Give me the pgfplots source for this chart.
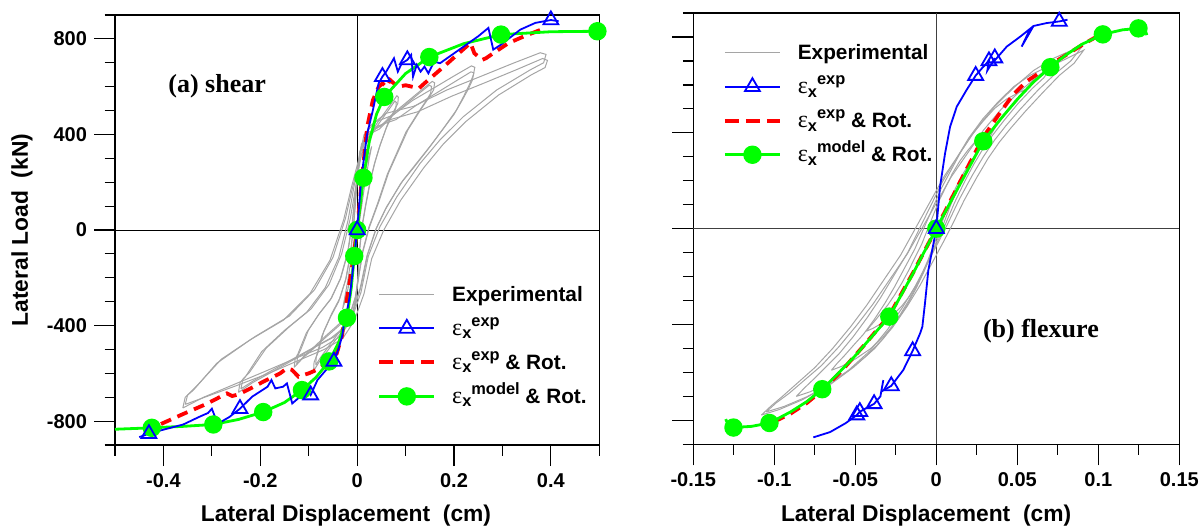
\documentclass[border=0pt]{standalone}
\usepackage{fontspec}
\setmainfont{Liberation Sans}
\newfontfamily\serif{Liberation Serif}
\usepackage{pgfplots}
\pgfplotsset{compat=1.18}
\definecolor{expgray}{RGB}{165,165,165}
\definecolor{pblue}{RGB}{0,0,255}
\definecolor{pred}{RGB}{255,0,0}
\definecolor{pgreen}{RGB}{0,255,0}
\newcommand{\epsx}[1]{{\serif\mdseries\fontsize{12}{14}\selectfont ε}\raisebox{-1.8pt}{\fontsize{8.2}{9}\selectfont x}\raisebox{4.5pt}{\fontsize{8.2}{9}\selectfont #1}}
\pgfplotsset{
  panel/.style={
    scale only axis, clip=false,
    axis line style={line width=0.6pt},
    tick align=outside, xtick pos=left, ytick pos=left,
    major tick length=10.5pt, minor tick length=5.25pt,
    every tick/.style={black, line width=0.6pt},
    ymin=-900, ymax=900,
    ytick={-800,-400,0,400,800},
    minor ytick={-900,-700,-600,-500,-300,-200,-100,100,200,300,500,600,700,900},
    tick label style={font=\fontsize{10}{11}\selectfont\bfseries},
    label style={font=\fontsize{11.4}{13}\selectfont\bfseries},
    legend image code/.code={\draw[mark repeat=2,mark phase=2,##1] plot coordinates {(0pt,0pt) (13.75pt,0pt) (27.5pt,0pt)};},
    legend style={draw=none, fill=none, inner sep=0pt, font=\fontsize{10.4}{12}\selectfont\bfseries, row sep=0pt, column sep=7pt, nodes={inner sep=1pt, text height=11pt, text depth=4pt}},
    legend cell align=left,
  },
  gr/.style={expgray, line width=0.5pt, forget plot},
  bl/.style={pblue, line width=0.9pt, mark=triangle, mark size=4.3pt, mark options={solid}},
  rd/.style={pred, line width=1.9pt, dash pattern=on 5.5pt off 3.5pt},
  gn/.style={pgreen, line width=1.4pt, mark=*, mark size=3.9pt, mark options={solid}},
}
\begin{document}
\begin{tikzpicture}[x=1pt,y=1pt]
\useasboundingbox (0,0) rectangle (600.5,-263.5);
% ---------------- left panel: shear ----------------
\begin{axis}[panel, at={(57.5pt,-222.5pt)}, anchor=south west, width=242.15pt, height=215pt,
  xmin=-0.5, xmax=0.5,
  xtick={-0.4,-0.2,0,0.2,0.4}, xticklabels={-0.4,-0.2,0,0.2,0.4},
  minor xtick={-0.5,-0.3,-0.1,0.1,0.3,0.5},
  yticklabels={-800,-400,0,400,800},
  xlabel={Lateral Displacement\ \ (cm)}, ylabel={Lateral Load\ \ (kN)},
  xlabel style={at={(axis description cs:0.477,-0.177)}, anchor=base},
  ylabel style={at={(axis description cs:-0.192,0.5)}, anchor=center},
  legend style={at={(axis cs:0.041,-196.7)}, anchor=north west},
]
\addlegendimage{expgray, line width=0.6pt}\addlegendentry{Experimental}
\addlegendimage{bl}\addlegendentry{\epsx{exp}}
\addlegendimage{rd, dash pattern=on 7pt off 3.5pt}\addlegendentry{\epsx{exp} \& Rot.}
\addlegendimage{gn}\addlegendentry{\epsx{model} \& Rot.}
\addplot[black, line width=0.5pt, forget plot] coordinates {(0,-900) (0,900)};
\addplot[black, line width=0.5pt, forget plot] coordinates {(-0.5,0) (0.5,0)};
% experimental loops
\addplot[gr] coordinates {(0,0) (0.01,170) (0.02,280) (0.03,350) (0.025,300) (0.015,180) (0.005,40) (-0.005,-90) (-0.015,-210) (-0.025,-300) (-0.03,-330) (-0.02,-220) (-0.01,-90) (0.0,40) (0.01,170) (0.02,280) (0.03,350)};
\addplot[gr] coordinates {(-0.090,-590) (-0.089,-554) (-0.0845,-531) (-0.0725,-442) (-0.055,-364) (-0.038,-299) (-0.024,-210) (-0.014,-100) (-0.007,33) (-0.0028,140) (0.0017,252) (0.005,326) (0.0129,369) (0.0255,392) (0.040,444) (0.055,486) (0.070,528) (0.082,562) (0.085,556) (0.084,530) (0.078,507) (0.063,444) (0.048,359) (0.037,285) (0.028,211) (0.018,105) (0.010,11) (0.005,-87) (0.0017,-206) (-0.0028,-295) (-0.009,-354) (-0.018,-390) (-0.0315,-425) (-0.047,-467) (-0.064,-513) (-0.079,-554) (-0.090,-590)};
\addplot[gr] coordinates {(-0.0855,-566) (-0.0846,-532) (-0.0803,-510) (-0.0689,-424) (-0.0523,-349) (-0.0361,-287) (-0.0228,-202) (-0.0133,-96) (-0.0067,32) (-0.0027,134) (0.0016,242) (0.0048,313) (0.0123,354) (0.0242,376) (0.038,426) (0.0523,467) (0.0665,507) (0.0779,540) (0.0808,534) (0.0798,509) (0.0741,487) (0.0599,426) (0.0456,345) (0.0352,274) (0.0266,203) (0.0171,101) (0.0095,11) (0.0048,-84) (0.0016,-198) (-0.0027,-283) (-0.0086,-340) (-0.0171,-374) (-0.0299,-408) (-0.0447,-448) (-0.0608,-492) (-0.0751,-532) (-0.0855,-566)};
\addplot[gr] coordinates {(-0.130,-575) (-0.128,-540) (-0.122,-517) (-0.105,-431) (-0.080,-355) (-0.055,-291) (-0.035,-205) (-0.020,-97) (-0.010,35) (-0.004,155) (0.003,279) (0.009,360) (0.024,409) (0.048,434) (0.076,491) (0.104,538) (0.132,585) (0.155,622) (0.160,616) (0.158,587) (0.150,560) (0.130,500) (0.105,420) (0.085,330) (0.065,240) (0.045,120) (0.025,10) (0.012,-90) (0.003,-200) (-0.004,-287) (-0.013,-345) (-0.026,-380) (-0.045,-414) (-0.068,-455) (-0.092,-500) (-0.114,-540) (-0.130,-575)};
\addplot[gr] coordinates {(-0.1248,-561) (-0.1229,-527) (-0.1171,-504) (-0.1008,-420) (-0.0768,-346) (-0.0528,-284) (-0.0336,-200) (-0.0192,-95) (-0.0096,34) (-0.0038,151) (0.0029,272) (0.0086,351) (0.023,399) (0.0461,423) (0.073,479) (0.0998,525) (0.1267,570) (0.1488,606) (0.1536,601) (0.1517,572) (0.144,546) (0.1248,488) (0.1008,410) (0.0816,322) (0.0624,234) (0.0432,117) (0.024,10) (0.0115,-88) (0.0029,-195) (-0.0038,-280) (-0.0125,-336) (-0.025,-371) (-0.0432,-404) (-0.0653,-444) (-0.0883,-488) (-0.1094,-527) (-0.1248,-561)};
\addplot[gr] coordinates {(-0.245,-680) (-0.242,-639) (-0.230,-612) (-0.197,-509) (-0.150,-420) (-0.104,-344) (-0.066,-242) (-0.038,-115) (-0.019,39) (-0.0075,171) (0.005,308) (0.014,398) (0.037,452) (0.073,480) (0.115,543) (0.158,594) (0.201,646) (0.236,687) (0.243,681) (0.240,650) (0.233,614) (0.220,560) (0.205,502) (0.178,425) (0.150,349) (0.122,278) (0.095,209) (0.061,98) (0.040,10) (0.022,-100) (0.008,-237) (-0.0075,-340) (-0.0245,-408) (-0.049,-449) (-0.086,-489) (-0.127,-538) (-0.174,-592) (-0.216,-639) (-0.245,-680)};
\addplot[gr] coordinates {(-0.240,-665) (-0.236,-625) (-0.222,-595) (-0.188,-495) (-0.140,-405) (-0.095,-330) (-0.058,-228) (-0.032,-100) (-0.014,50) (-0.003,180) (0.008,310) (0.018,390) (0.042,435) (0.080,462) (0.122,522) (0.165,575) (0.205,625) (0.235,662) (0.241,658) (0.238,628) (0.230,592) (0.216,540) (0.200,484) (0.172,408) (0.144,332) (0.117,262) (0.090,195) (0.058,85) (0.038,0) (0.020,-110) (0.006,-245) (-0.010,-345) (-0.028,-410) (-0.054,-452) (-0.092,-494) (-0.133,-540) (-0.178,-590) (-0.215,-632) (-0.240,-665)};
\addplot[gr] coordinates {(-0.360,-745) (-0.355,-700) (-0.338,-670) (-0.290,-558) (-0.221,-460) (-0.152,-377) (-0.097,-265) (-0.056,-126) (-0.028,42) (-0.011,185) (0.008,333) (0.023,430) (0.059,488) (0.117,518) (0.185,586) (0.254,642) (0.322,698) (0.378,742) (0.390,735) (0.385,700) (0.357,670) (0.288,586) (0.219,474) (0.171,377) (0.130,279) (0.082,139) (0.047,14) (0.023,-110) (0.008,-260) (-0.011,-372) (-0.036,-447) (-0.072,-492) (-0.126,-536) (-0.187,-589) (-0.256,-648) (-0.317,-700) (-0.360,-745)};
\addplot[gr] coordinates {(-0.355,-730) (-0.350,-690) (-0.330,-650) (-0.280,-540) (-0.210,-445) (-0.140,-360) (-0.088,-250) (-0.050,-115) (-0.024,50) (-0.008,190) (0.010,320) (0.028,410) (0.065,460) (0.125,495) (0.195,560) (0.262,615) (0.330,672) (0.383,718) (0.393,710) (0.388,680) (0.360,650) (0.292,565) (0.225,455) (0.178,360) (0.138,262) (0.090,125) (0.055,0) (0.030,-120) (0.014,-268) (-0.006,-380) (-0.030,-455) (-0.068,-500) (-0.120,-545) (-0.180,-598) (-0.250,-652) (-0.312,-698) (-0.355,-730)};
% exp & Rot.
\addplot[rd, forget plot] coordinates {(-0.405,-812) (-0.359,-770) (-0.311,-728) (-0.269,-684) (-0.258,-695) (-0.245,-688) (-0.221,-664) (-0.194,-635) (-0.159,-600) (-0.145,-579) (-0.135,-585) (-0.121,-614) (-0.100,-600) (-0.084,-586) (-0.063,-558) (-0.042,-516) (-0.031,-440) (-0.022,-300) (-0.011,-162) (0,0) (0.0087,190) (0.0206,430) (0.0324,543) (0.0443,599) (0.0522,614) (0.060,599) (0.068,628) (0.084,599) (0.100,606) (0.115,599) (0.127,592) (0.139,614) (0.155,642) (0.179,684) (0.210,740) (0.234,783) (0.242,740) (0.258,712) (0.266,719) (0.281,740) (0.313,783) (0.345,811) (0.380,839)};
% model & Rot.
\addplot[gn, forget plot, mark indices={2,4,6,8,10,12,14,15,17,20,22,24,26}] coordinates {(-0.500,-834) (-0.424,-828) (-0.360,-822) (-0.297,-814) (-0.245,-793) (-0.194,-762) (-0.150,-722) (-0.114,-670) (-0.085,-617) (-0.058,-550) (-0.038,-470) (-0.021,-367) (-0.012,-240) (-0.006,-109) (0,0) (0.006,100) (0.013,219) (0.025,370) (0.040,485) (0.056,557) (0.100,655) (0.149,724) (0.220,780) (0.297,818) (0.400,830) (0.496,832)};
% exp
\addplot[bl, forget plot, mark indices={2,10,20,23,30,35,40,55}] coordinates {(-0.450,-867) (-0.430,-853) (-0.406,-839) (-0.359,-814) (-0.327,-783) (-0.308,-766) (-0.300,-748) (-0.288,-811) (-0.264,-783) (-0.242,-748) (-0.217,-698) (-0.185,-656) (-0.177,-628) (-0.169,-663) (-0.153,-656) (-0.145,-642) (-0.134,-726) (-0.114,-691) (-0.106,-663) (-0.096,-691) (-0.082,-628) (-0.058,-571) (-0.048,-550) (-0.039,-501) (-0.031,-444) (-0.027,-388) (-0.023,-360) (-0.015,-275) (-0.007,-134) (0,0) (0.0087,219) (0.0206,402) (0.0324,501) (0.0443,614) (0.0522,642) (0.060,663) (0.076,719) (0.084,663) (0.092,698) (0.1036,712) (0.1115,733) (0.1154,642) (0.123,691) (0.131,663) (0.139,684) (0.147,656) (0.159,705) (0.171,698) (0.250,811) (0.271,846) (0.281,755) (0.297,776) (0.337,839) (0.368,867) (0.400,879) (0.416,874)};
\node[font=\serif\bfseries\fontsize{13}{15}\selectfont] at (axis cs:-0.289,603) {(a) shear};
\end{axis}
% ---------------- right panel: flexure ----------------
\begin{axis}[panel, at={(346.65pt,-222.15pt)}, anchor=south west, width=243pt, height=215.65pt,
  xmin=-0.15, xmax=0.15,
  xtick={-0.15,-0.1,-0.05,0,0.05,0.1,0.15}, xticklabels={-0.15,-0.1,-0.05,0,0.05,0.1,0.15},
  minor xtick={-0.125,-0.075,-0.025,0.025,0.075,0.125},
  yticklabels={},
  xlabel={Lateral Displacement\ \ (cm)},
  xlabel style={at={(axis description cs:0.479,-0.178)}, anchor=base},
  legend style={at={(axis cs:-0.1319,806.9)}, anchor=north west},
]
\addlegendimage{expgray, line width=0.6pt}\addlegendentry{Experimental}
\addlegendimage{bl}\addlegendentry{\epsx{exp}}
\addlegendimage{rd, dash pattern=on 7pt off 3.5pt}\addlegendentry{\epsx{exp} \& Rot.}
\addlegendimage{gn}\addlegendentry{\epsx{model} \& Rot.}
\addplot[black!75, line width=0.5pt, forget plot] coordinates {(0,-900) (0,900)};
\addplot[black!75, line width=0.5pt, forget plot] coordinates {(-0.15,0) (0.15,0)};
\addplot[gr] coordinates {(-0.0432,-428) (-0.0408,-407) (-0.038,-385) (-0.034,-352) (-0.030,-319) (-0.0256,-275) (-0.0212,-226) (-0.0172,-176) (-0.0132,-121) (-0.0088,-61) (-0.0052,0) (-0.0016,61) (0.002,121) (0.006,176) (0.010,231) (0.0144,281) (0.0192,325) (0.024,363) (0.0288,391) (0.0328,407) (0.036,418) (0.0332,385) (0.0296,358) (0.0252,319) (0.0208,275) (0.0172,237) (0.0144,204) (0.0116,165) (0.0088,121) (0.0056,66) (0.0028,11) (0.0004,-33) (-0.0024,-83) (-0.0052,-132) (-0.0084,-182) (-0.012,-231) (-0.0164,-281) (-0.0216,-325) (-0.0272,-363) (-0.0332,-393) (-0.0388,-415) (-0.0432,-428)};
\addplot[gr] coordinates {(-0.0648,-591) (-0.0612,-562) (-0.057,-532) (-0.051,-486) (-0.045,-441) (-0.0384,-380) (-0.0318,-312) (-0.0258,-243) (-0.0198,-167) (-0.0132,-84) (-0.0078,0) (-0.0024,84) (0.003,167) (0.009,243) (0.015,319) (0.0216,388) (0.0288,448) (0.036,502) (0.0432,540) (0.0492,562) (0.054,578) (0.0498,532) (0.0444,494) (0.0378,441) (0.0312,380) (0.0258,327) (0.0216,281) (0.0174,228) (0.0132,167) (0.0084,91) (0.0042,15) (0.0006,-46) (-0.0036,-114) (-0.0078,-182) (-0.0126,-251) (-0.018,-319) (-0.0246,-388) (-0.0324,-448) (-0.0408,-502) (-0.0498,-543) (-0.0582,-574) (-0.0648,-591)};
\addplot[gr] coordinates {(-0.0864,-700) (-0.0816,-666) (-0.076,-630) (-0.068,-576) (-0.060,-522) (-0.0512,-450) (-0.0424,-369) (-0.0344,-288) (-0.0264,-198) (-0.0176,-99) (-0.0104,0) (-0.0032,99) (0.004,198) (0.012,288) (0.020,378) (0.0288,459) (0.0384,531) (0.048,594) (0.0576,639) (0.0656,666) (0.072,684) (0.0664,630) (0.0592,585) (0.0504,522) (0.0416,450) (0.0344,387) (0.0288,333) (0.0232,270) (0.0176,198) (0.0112,108) (0.0056,18) (0.0008,-54) (-0.0048,-135) (-0.0104,-216) (-0.0168,-297) (-0.024,-378) (-0.0328,-459) (-0.0432,-531) (-0.0544,-594) (-0.0664,-644) (-0.0776,-680) (-0.0864,-700)};
\addplot[gr] coordinates {(-0.108,-778) (-0.102,-740) (-0.095,-700) (-0.085,-640) (-0.075,-580) (-0.064,-500) (-0.053,-410) (-0.043,-320) (-0.033,-220) (-0.022,-110) (-0.013,0) (-0.004,110) (0.005,220) (0.015,320) (0.025,420) (0.036,510) (0.048,590) (0.060,660) (0.072,710) (0.082,740) (0.090,760) (0.083,700) (0.074,650) (0.063,580) (0.052,500) (0.043,430) (0.036,370) (0.029,300) (0.022,220) (0.014,120) (0.007,20) (0.001,-60) (-0.006,-150) (-0.013,-240) (-0.021,-330) (-0.030,-420) (-0.041,-510) (-0.054,-590) (-0.068,-660) (-0.083,-715) (-0.097,-755) (-0.108,-778)};
\addplot[gr] coordinates {(-0.105,-765) (-0.099,-728) (-0.091,-688) (-0.081,-630) (-0.071,-572) (-0.060,-492) (-0.049,-402) (-0.039,-314) (-0.029,-215) (-0.018,-106) (-0.009,0) (0.000,106) (0.009,214) (0.019,312) (0.029,410) (0.040,498) (0.052,576) (0.064,644) (0.075,692) (0.084,722) (0.091,745) (0.085,690) (0.076,640) (0.066,570) (0.055,490) (0.046,420) (0.039,362) (0.032,294) (0.025,214) (0.017,116) (0.010,18) (0.004,-60) (-0.003,-148) (-0.010,-236) (-0.018,-324) (-0.027,-412) (-0.038,-500) (-0.051,-578) (-0.065,-648) (-0.080,-702) (-0.094,-742) (-0.105,-765)};
\addplot[rd, forget plot] coordinates {(-0.100,-805) (-0.090,-772) (-0.080,-728) (-0.070,-672) (-0.058,-590) (-0.045,-490) (-0.029,-362) (-0.015,-192) (0,0) (0.015,200) (0.029,382) (0.040,490) (0.0475,560) (0.0558,615) (0.064,652) (0.073,695) (0.0825,735) (0.092,775) (0.100,805) (0.107,828)};
\addplot[gn, forget plot, mark indices={3,5,8,12,14,16,20,23,25}] coordinates {(-0.1300,-795) (-0.1285,-818) (-0.1252,-830) (-0.1140,-825) (-0.1030,-811) (-0.0900,-765) (-0.0800,-722) (-0.0704,-670) (-0.0600,-600) (-0.0500,-530) (-0.0400,-452) (-0.0290,-367) (-0.0150,-195) (0,0) (0.0150,190) (0.0290,365) (0.0400,460) (0.0500,540) (0.0600,612) (0.0704,674) (0.0800,725) (0.0900,770) (0.1028,811) (0.1150,830) (0.1248,836) (0.1290,826) (0.1300,808)};
\addplot[bl, forget plot, mark indices={4,5,7,11,13,18,24,26,28,36}] coordinates {(-0.0759,-871) (-0.0656,-849) (-0.0560,-812) (-0.0491,-778) (-0.0472,-764) (-0.0430,-748) (-0.0384,-731) (-0.0345,-700) (-0.0327,-632) (-0.0340,-680) (-0.0278,-656) (-0.0204,-590) (-0.0146,-510) (-0.0100,-437) (-0.0086,-409) (-0.0070,-312) (-0.0049,-173) (0,0) (0.0023,175) (0.0054,314) (0.0085,425) (0.0126,509) (0.0187,579) (0.0243,639) (0.0290,676) (0.0325,700) (0.0315,660) (0.0361,712) (0.0345,690) (0.0435,760) (0.0517,801) (0.0580,835) (0.0527,760) (0.0600,846) (0.0680,858) (0.0759,865) (0.0810,872)};
\node[font=\serif\bfseries\fontsize{13}{15}\selectfont] at (axis cs:0.0646,-427) {(b) flexure};
\end{axis}
\end{tikzpicture}
\end{document}
